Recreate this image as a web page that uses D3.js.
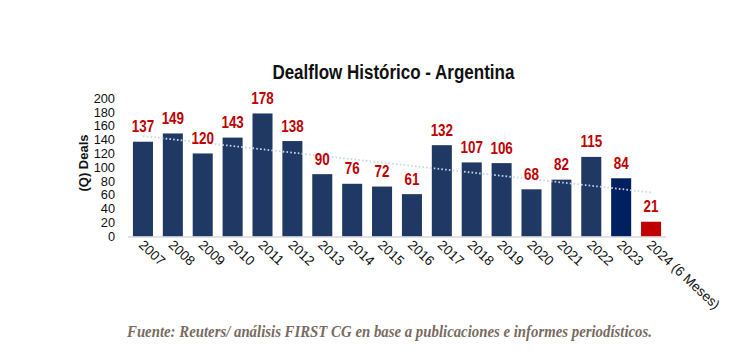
<!DOCTYPE html>
<html><head><meta charset="utf-8">
<script src="https://cdn.jsdelivr.net/npm/d3@7"></script>
<style>html,body{margin:0;padding:0;background:#fff;}svg{display:block;}</style>
</head><body>
<svg id="c" width="730" height="355"></svg>
<script>
const years = ["2007","2008","2009","2010","2011","2012","2013","2014","2015","2016","2017","2018","2019","2020","2021","2022","2023","2024 (6 Meses)"];
const deals = [137,149,120,143,178,138,90,76,72,61,132,107,106,68,82,115,84,21];
const barColors = ["#1F3864","#1F3864","#1F3864","#1F3864","#1F3864","#1F3864","#1F3864","#1F3864","#1F3864","#1F3864","#1F3864","#1F3864","#1F3864","#1F3864","#1F3864","#1F3864","#002060","#C00000"];
const yTicks = [0,20,40,60,80,100,120,140,160,180,200];
const titleText = "Dealflow Histórico - Argentina";
const yLabel = "(Q) Deals";
const sourceText = "Fuente: Reuters/ análisis FIRST CG en base a publicaciones e informes periodísticos.";

const svg = d3.select("#c");
const x = d3.scaleBand().domain(years).range([128, 666]).paddingInner(0.33).paddingOuter(0.165);
const y = d3.scaleLinear().domain([0, 200]).range([236.2, 98.3]);

// title
svg.append("text").attr("x", 393.4).attr("y", 79).attr("text-anchor","middle")
  .attr("font-family","Liberation Sans, Arial, sans-serif").attr("font-weight","bold")
  .attr("font-size", 20).attr("fill","#111").text(titleText)
  .attr("textLength", 242).attr("lengthAdjust","spacingAndGlyphs");

// y axis (labels only)
const yAxis = d3.axisLeft(y).tickValues(yTicks).tickSize(0).tickPadding(0);
const ga = svg.append("g").attr("transform","translate(115,0)").call(yAxis);
ga.select(".domain").remove();
ga.selectAll("text").attr("font-family","Liberation Sans, Arial, sans-serif").attr("font-size",12.8).attr("fill","#111");

// y label
svg.append("text").attr("transform","translate(88,163) rotate(-90)").attr("text-anchor","middle")
  .attr("font-family","Liberation Sans, Arial, sans-serif").attr("font-weight","bold").attr("font-size",13)
  .attr("fill","#111").text(yLabel);

// baseline
svg.append("line").attr("x1",128).attr("x2",666).attr("y1",y(0)+0.8).attr("y2",y(0)+0.8)
  .attr("stroke","#d9d9d9").attr("stroke-width",1.6);

// bars
svg.append("g").selectAll("rect").data(years).join("rect")
  .attr("x", d => x(d)).attr("width", x.bandwidth())
  .attr("y", (d,i) => y(deals[i])).attr("height", (d,i) => y(0) - y(deals[i]))
  .attr("fill", (d,i) => barColors[i]);

// linear trendline (least squares over the series)
const n = deals.length;
const mx = d3.mean(deals, (d,i) => i), my = d3.mean(deals);
const sxy = d3.sum(deals, (d,i) => (i-mx)*(d-my)), sxx = d3.sum(deals, (d,i) => (i-mx)*(i-mx));
const slope = sxy/sxx, icpt = my - slope*mx;
const trend = years.map((d,i) => [x(d)+x.bandwidth()/2, y(icpt + slope*i)]);
svg.append("path").attr("d", d3.line()([trend[0], trend[n-1]]))
  .attr("fill","none").attr("stroke","#ccd5e8").attr("stroke-width",1.8).attr("stroke-dasharray","1.6,2.2");

// value labels
svg.append("g").selectAll("text").data(years).join("text")
  .attr("transform", (d,i) => `translate(${x(d)+x.bandwidth()/2},${y(deals[i]) - 9.5}) scale(0.84,1)`)
  .attr("text-anchor","middle").attr("font-family","Liberation Sans, Arial, sans-serif")
  .attr("font-weight","bold").attr("font-size",16).attr("fill","#C00000")
  .text((d,i) => deals[i]);

// x labels
svg.append("g").selectAll("text").data(years).join("text")
  .attr("transform", d => `translate(${x(d)+x.bandwidth()/2 - 5},${246}) rotate(43)`)
  .attr("text-anchor","start").attr("font-family","Liberation Sans, Arial, sans-serif")
  .attr("font-size",13.5).attr("fill","#111").text(d => d);

// source
svg.append("text").attr("x", 389.5).attr("y", 336.5).attr("text-anchor","middle")
  .attr("font-family","Liberation Serif, Times New Roman, serif").attr("font-style","italic").attr("font-weight","bold")
  .attr("font-size",17).attr("fill","#786b5f").attr("textLength",525).attr("lengthAdjust","spacingAndGlyphs")
  .text(sourceText);
</script>
</body></html>
